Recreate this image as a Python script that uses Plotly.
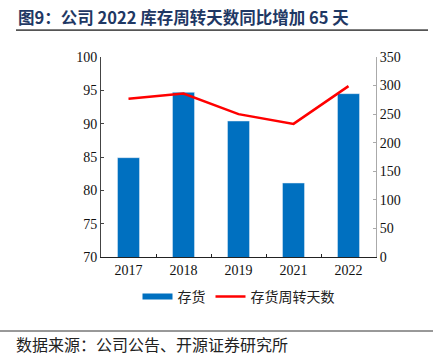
import plotly.graph_objects as go

years = ["2017", "2018", "2019", "2021", "2022"]
inventory = [84.9, 94.7, 90.4, 81.1, 94.5]
turnover_days = [277, 286, 250, 233, 299]

W, H = 433, 361
L, R, T, B = 101, 376, 57, 257

def px(x):
    return (x - L) / (R - L)

def py(y):
    return (B - y) / (B - T)

serif = "Liberation Serif, Times New Roman, serif"
cjk = "Noto Sans CJK SC"
BLUE = "#0070C0"

fig = go.Figure()
fig.add_trace(go.Bar(x=years, y=inventory, name="存货", marker=dict(color=BLUE),
                     width=0.4, yaxis="y", showlegend=False))
# legend proxy for the bar series (wide flat swatch as in the reference)
fig.add_trace(go.Scatter(x=[None], y=[None], name="存货", mode="lines",
                         line=dict(color=BLUE, width=6), yaxis="y", hoverinfo="skip"))
fig.add_trace(go.Scatter(x=years, y=turnover_days, name="存货周转天数", mode="lines",
                         line=dict(color="#FF0000", width=2.5), yaxis="y2"))

fig.update_layout(
    width=W, height=H,
    margin=dict(l=L, r=W - R, t=T, b=H - B),
    paper_bgcolor="white", plot_bgcolor="white",
    showlegend=True,
    legend=dict(orientation="h", x=0.5, xanchor="center", y=py(297), yanchor="middle",
                font=dict(family=cjk, size=14, color="#222"), itemwidth=30,
                bgcolor="rgba(0,0,0,0)"),
    xaxis=dict(type="category", showline=True, linecolor="#222", linewidth=1,
               ticks="inside", tickson="boundaries", ticklen=3, tickcolor="#222",
               tickfont=dict(family=serif, size=14, color="#111"),
               showgrid=False, zeroline=False),
    yaxis=dict(range=[70, 100], dtick=5, showline=True, linecolor="#444", linewidth=1,
               ticks="inside", ticklen=3, tickcolor="#444",
               tickfont=dict(family=serif, size=14, color="#111"),
               showgrid=False, zeroline=False),
    yaxis2=dict(range=[0, 350], dtick=50, overlaying="y", side="right",
                showline=True, linecolor="#aaa", linewidth=1,
                ticks="inside", ticklen=3, tickcolor="#aaa",
                tickfont=dict(family=serif, size=14, color="#111"),
                showgrid=False, zeroline=False),
    annotations=[
        dict(text="<b>图9：公司 2022 库存周转天数同比增加 65 天</b>", xref="paper", yref="paper",
             x=px(16), y=py(17), xanchor="left", yanchor="middle", showarrow=False,
             font=dict(family=cjk, size=16.5, color="#1F3864")),
        dict(text="数据来源：公司公告、开源证券研究所", xref="paper", yref="paper",
             x=px(14), y=py(344), xanchor="left", yanchor="middle", showarrow=False,
             font=dict(family=cjk, size=16, color="#222")),
        # title rule drawn as a thin filled annotation box
        dict(text=" ", xref="paper", yref="paper", x=px(16), y=py(30), xanchor="left",
             yanchor="middle", showarrow=False, width=412, height=1, borderpad=0,
             borderwidth=0, bgcolor="#555555", font=dict(size=1)),
    ],
    shapes=[
        dict(type="line", xref="paper", yref="paper", x0=px(0), x1=px(433),
             y0=py(331), y1=py(331), line=dict(color="#333333", width=1)),
        dict(type="line", xref="paper", yref="paper", x0=px(16), x1=px(428),
             y0=py(30), y1=py(30), line=dict(color="#555555", width=1.5)),
    ],
)

fig.write_html("out.html", config={"displayModeBar": False},
               post_script="document.body.style.margin='0';")
